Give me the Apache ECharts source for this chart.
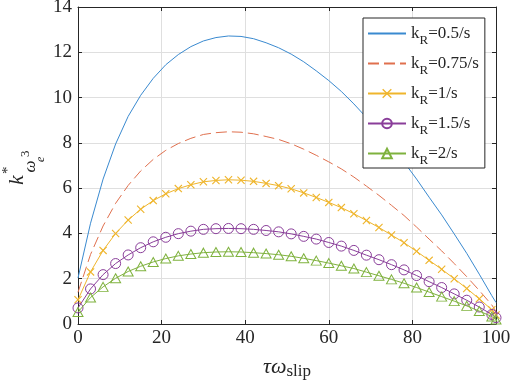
<!DOCTYPE html>
<html>
<head>
<meta charset="utf-8">
<script src="https://cdn.jsdelivr.net/npm/echarts@6/dist/echarts.min.js"></script>
<style>html,body{margin:0;padding:0;background:#fff;}#c{width:512px;height:392px;}</style>
</head>
<body>
<div id="c"></div>
<script>
// tau*omega_slip sample positions
var xs = [0,3,6,9,12,15,18,21,24,27,30,33,36,39,42,45,48,51,54,57,60,63,66,69,72,75,78,81,84,87,90,93,96,99,100];
// k_R values (legend)
var kR = ['0.5','0.75','1','1.5','2'];
// series values
var s05  = [2.03,4.45,6.40,7.95,9.17,10.10,10.85,11.45,11.90,12.25,12.50,12.65,12.72,12.70,12.60,12.42,12.20,11.92,11.58,11.18,10.75,10.27,9.72,9.12,8.50,7.85,7.15,6.40,5.60,4.82,3.98,3.12,2.20,1.25,0.95];
var s075 = [1.40,3.07,4.33,5.33,6.12,6.76,7.27,7.67,7.97,8.20,8.37,8.45,8.49,8.47,8.40,8.28,8.15,7.96,7.72,7.45,7.16,6.85,6.49,6.09,5.68,5.24,4.79,4.28,3.75,3.23,2.67,2.09,1.48,0.84,0.55];
var s1   = [1.07,2.30,3.25,4.00,4.59,5.07,5.45,5.75,5.98,6.15,6.28,6.34,6.37,6.35,6.30,6.21,6.11,5.97,5.79,5.59,5.37,5.14,4.87,4.57,4.26,3.93,3.59,3.21,2.81,2.42,2.00,1.57,1.11,0.63,0.40];
var s15  = [0.71,1.55,2.18,2.67,3.05,3.37,3.63,3.83,3.99,4.10,4.18,4.21,4.22,4.21,4.18,4.13,4.07,3.98,3.87,3.75,3.60,3.44,3.25,3.04,2.84,2.62,2.39,2.14,1.87,1.61,1.33,1.05,0.75,0.42,0.28];
var s2   = [0.53,1.17,1.64,2.02,2.32,2.55,2.74,2.89,3.01,3.09,3.15,3.18,3.19,3.18,3.15,3.11,3.06,2.99,2.90,2.80,2.69,2.57,2.45,2.29,2.13,1.97,1.80,1.61,1.41,1.21,1.01,0.80,0.57,0.33,0.20];
var xTicks = [0,20,40,60,80,100];
var yTicks = [0,2,4,6,8,10,12,14];

function pairs(v){ return xs.map(function(x,i){ return [x, v[i]]; }); }

var SERIF = '"Liberation Serif", "Times New Roman", serif';
var AX = '#262626';
var colors = ['#3a8ad0','#e0704e','#efb52c','#8a3e9a','#7fb23e'];
var xPath = 'path://M0,1L1,0L5,4L9,0L10,1L6,5L10,9L9,10L5,6L1,10L0,9L4,5Z';

var chart = echarts.init(document.getElementById('c'), null, {renderer:'canvas'});

function mkSeries(i, data, extra){
  var s = {
    name: 'kR=' + kR[i] + '/s',
    type: 'line',
    data: pairs(data),
    xAxisIndex: 0, yAxisIndex: 0,
    symbol: 'none',
    lineStyle: {color: colors[i], width: 1, type: 'solid'},
    itemStyle: {color: colors[i]},
    emphasis: {disabled: true},
    animation: false,
    z: 2 + i
  };
  for (var k in extra) s[k] = extra[k];
  return s;
}

var series = [
  mkSeries(0, s05, {}),
  mkSeries(1, s075, {lineStyle:{color: colors[1], width: 1, type: [11,5]}}),
  mkSeries(2, s1, {symbol: xPath, symbolSize: 8, showSymbol: true,
      itemStyle:{color: colors[2]}}),
  mkSeries(3, s15, {symbol: 'circle', symbolSize: 10, showSymbol: true,
      itemStyle:{color: 'rgba(0,0,0,0)', borderColor: colors[3], borderWidth: 1}}),
  mkSeries(4, s2, {symbol: 'triangle', symbolSize: [10,9], showSymbol: true,
      itemStyle:{color: 'rgba(0,0,0,0)', borderColor: colors[4], borderWidth: 1}})
];

function axisCommon(){
  return {
    axisLine: {show: true, onZero: false, lineStyle: {color: AX, width: 1}},
    axisTick: {show: true, inside: true, length: 4, lineStyle: {color: AX, width: 1}},
    splitLine: {show: false}
  };
}

var xb = axisCommon();
xb.type = 'value'; xb.position = 'bottom'; xb.min = xTicks[0]; xb.max = xTicks[xTicks.length-1]; xb.interval = 20;
xb.splitLine = {show: true, lineStyle: {color: '#dfdfdf', width: 1}};
xb.axisLabel = {show: true, margin: 5, color: AX, fontFamily: SERIF, fontSize: 19};
xb.name = '{a|τω}{b|slip}';
xb.nameLocation = 'middle';
xb.nameGap = 31;
xb.nameTextStyle = {rich: {
  a: {fontFamily: SERIF, fontStyle: 'italic', fontSize: 22, lineHeight: 24, color: AX},
  b: {fontFamily: SERIF, fontSize: 17, lineHeight: 18, padding: [9,0,0,0], color: AX}
}};

var xt = axisCommon();
xt.type = 'value'; xt.position = 'top'; xt.min = 0; xt.max = 100; xt.interval = 20;
xt.axisLabel = {show: false};

var yl = axisCommon();
yl.type = 'value'; yl.position = 'left'; yl.min = yTicks[0]; yl.max = yTicks[yTicks.length-1]; yl.interval = 2;
yl.splitLine = {show: true, lineStyle: {color: '#dfdfdf', width: 1}};
yl.axisLabel = {show: true, margin: 6, color: AX, fontFamily: SERIF, fontSize: 19};

var yr = axisCommon();
yr.type = 'value'; yr.position = 'right'; yr.min = 0; yr.max = 14; yr.interval = 2;
yr.axisLabel = {show: false};

var noMark = {color: 'rgba(0,0,0,0)', borderColor: 'rgba(0,0,0,0)', borderWidth: 0};

function gtext(t, x, y, font){
  return {type: 'text', x: x, y: y, silent: true,
    style: {text: t, font: font, fill: AX, align: 'left', verticalAlign: 'middle'}};
}
var FN = '"Liberation Serif"';
var yName = {
  type: 'group', x: 25, y: 185, rotation: Math.PI / 2,
  children: [
    gtext('k', 0, -7.4, 'italic 22px ' + FN),
    gtext('*', 11, -17, '15px ' + FN),
    gtext('ω', 12.5, 5.3, 'italic 17px ' + FN),
    gtext('e', 23, 16, 'italic 12px ' + FN),
    gtext('3', 28, 0.6, '13px ' + FN)
  ]
};

chart.setOption({
  backgroundColor: '#fff',
  animation: false,
  grid: {left: 78, right: 16, top: 7, bottom: 68, containLabel: false, outerBoundsMode: 'none'},
  xAxis: [xb, xt],
  yAxis: [yl, yr],
  graphic: [yName],
  legend: {
    show: true,
    orient: 'vertical',
    left: 363, top: 18,
    padding: [2, 6, 1, 4],
    itemGap: 3,
    itemWidth: 38,
    itemHeight: 12,
    backgroundColor: '#fff',
    borderColor: AX,
    borderWidth: 1,
    borderRadius: 0,
    selectedMode: false,
    data: series.map(function(s, i){
      return i < 2 ? {name: s.name, itemStyle: noMark} : {name: s.name};
    }),
    formatter: function(name){
      var v = name.replace('kR=','');
      return '{k|k}{r|R}{v|=' + v + '}';
    },
    textStyle: {
      color: AX,
      rich: {
        k: {fontFamily: SERIF, fontSize: 17, lineHeight: 26, color: AX},
        r: {fontFamily: SERIF, fontSize: 13, lineHeight: 12, padding: [14,0,0,0], color: AX},
        v: {fontFamily: SERIF, fontSize: 17, lineHeight: 26, color: AX}
      }
    }
  },
  series: series
});
</script>
</body>
</html>
